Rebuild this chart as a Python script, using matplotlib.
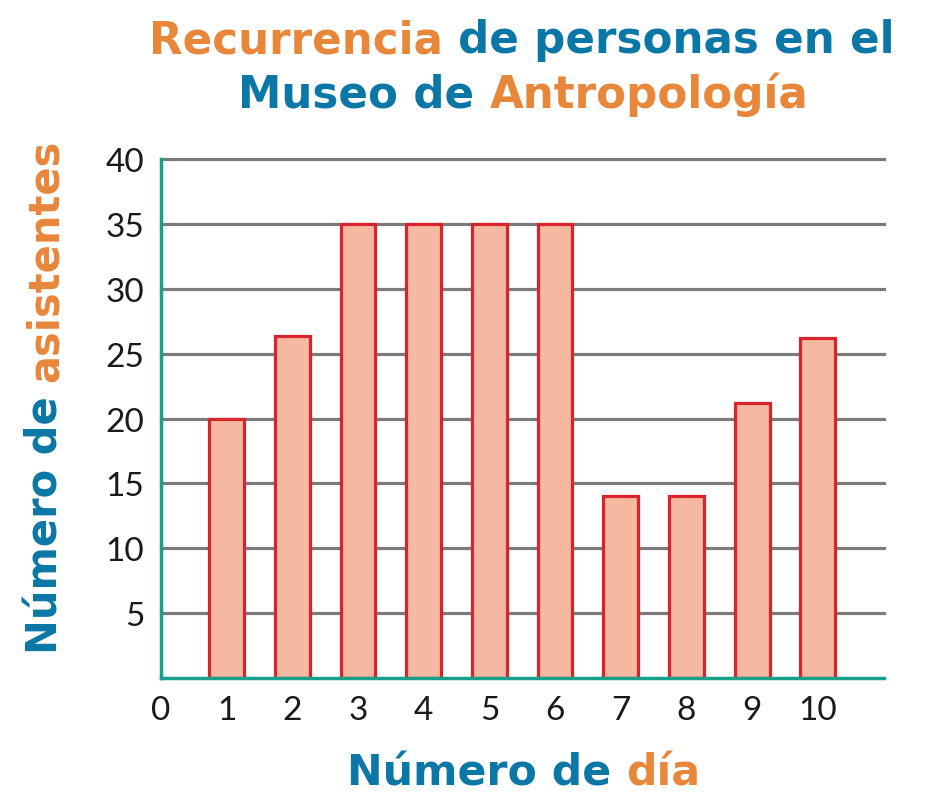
import matplotlib.pyplot as plt

# Datos
dias = [1, 2, 3, 4, 5, 6, 7, 8, 9, 10]
asistentes = [20, 26.4, 35, 35, 35, 35, 14, 14, 21.2, 26.2]
marcas_y = [5, 10, 15, 20, 25, 30, 35, 40]
marcas_x = [0, 1, 2, 3, 4, 5, 6, 7, 8, 9, 10]

naranja = '#E8873A'
azul = '#0A77A6'
verde = '#17A08C'

titulo_1 = [('Recurrencia ', naranja), ('de personas en el', azul)]
titulo_2 = [('Museo de ', azul), ('Antropología', naranja)]
etiqueta_x = [('Número de ', azul), ('día', naranja)]
etiqueta_y = [('Número de ', azul), ('asistentes', naranja)]

fig = plt.figure(figsize=(9.46, 8.12), dpi=100)
ax = fig.add_axes([0.170, 0.1638, 0.764, 0.639])

for y in marcas_y:
    ax.axhline(y, color='#7b7b7b', lw=2.3, zorder=0, clip_on=False)
ax.bar(dias, asistentes, width=0.53, color='#F4B9A0', edgecolor='#D9242E',
       linewidth=2.3, zorder=2)

ax.set_xlim(0, 11)
ax.set_ylim(0, 40)
for s in ['top', 'right']:
    ax.spines[s].set_visible(False)
for s in ['left', 'bottom']:
    ax.spines[s].set_color(verde)
    ax.spines[s].set_linewidth(2.5)
    ax.spines[s].set_zorder(3)
ax.set_xticks(marcas_x)
ax.set_yticks(marcas_y)
ax.tick_params(length=0, labelsize=24, pad=12)
for lab in ax.get_xticklabels() + ax.get_yticklabels():
    lab.set_family('Lato')
    lab.set_color('#1a1a1a')


def texto_color(partes, x, y, rot=0, size=30):
    # palabras en cadena, cada una con su color
    fuente = dict(family='DejaVu Sans', weight='bold', fontsize=size)
    t = fig.text(x, y, partes[0][0], color=partes[0][1], rotation=rot,
                 ha='left' if rot == 0 else 'center', va='bottom', **fuente)
    textos = [t]
    for s, c in partes[1:]:
        xy = (1, 0) if rot == 0 else (0.5, 1)
        t = ax.annotate(s, xy=xy, xycoords=t, color=c, rotation=rot,
                        ha='left' if rot == 0 else 'center', va='bottom',
                        annotation_clip=False, **fuente)
        textos.append(t)
    return textos


def centrar(textos, c, rot=0):
    fig.canvas.draw()
    r = fig.canvas.get_renderer()
    b0 = textos[0].get_window_extent(r)
    b1 = textos[-1].get_window_extent(r)
    W, H = fig.bbox.width, fig.bbox.height
    if rot == 0:
        ancho = b1.x1 - b0.x0
        textos[0].set_x((c - ancho / 2) / W)
    else:
        alto = b1.y1 - b0.y0
        textos[0].set_y((H - c - alto / 2) / H)


t1 = texto_color(titulo_1, 0.1, 1 - 62 / 812, size=31.4)
t2 = texto_color(titulo_2, 0.1, 1 - 117 / 812, size=31.4)
tx = texto_color(etiqueta_x, 0.1, 1 - 795 / 812, size=30.7)
ty = texto_color(etiqueta_y, 46 / 946, 0.2, rot=90)
centrar(t1, 522)
centrar(t2, 523)
centrar(tx, 524)
centrar(ty, 397, rot=90)

fig.savefig('out.png', dpi=100)
